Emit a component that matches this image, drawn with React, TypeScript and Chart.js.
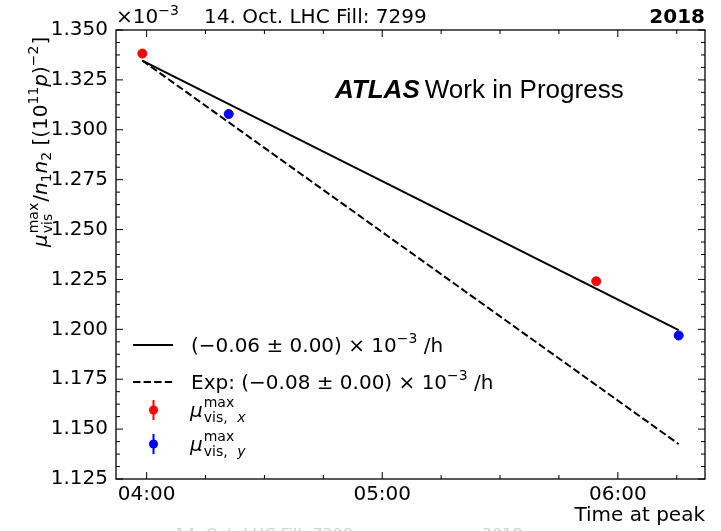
import React, { useEffect, useRef } from "react";
import { Chart, registerables } from "chart.js";

Chart.register(...registerables);

// ---- data (times in minutes after 04:00, values in units of 1e-3) ----
const xTickValues = [0, 60, 120];
const xTickLabels = ["04:00", "05:00", "06:00"];
const muXTimes = [-1.1, 114.5];
const muXValues = [1.3382, 1.2241];
const muYTimes = [20.9, 135.5];
const muYValues = [1.3079, 1.1969];
const fitTimes = [-1.1, 135.5];
const fitValues = [1.3347, 1.1996];
const expTimes = [-1.1, 135.5];
const expValues = [1.3347, 1.1425];
const xMin = -7.8;
const xMax = 142.2;
const yMin = 1.125;
const yMax = 1.35;
const yStep = 0.025;

const FONT = "'DejaVu Sans', sans-serif";

type Seg = { t: string; size: number; style?: string; dy?: number; stack?: boolean; family?: string; dx?: number };

function drawRich(ctx: CanvasRenderingContext2D, segs: Seg[], x: number, y: number) {
  let cx = x;
  let prevStart = x;
  for (const s of segs) {
    const start = (s.stack ? prevStart : cx) + (s.dx || 0);
    ctx.font = `${s.style || ""} ${s.size}px ${s.family || FONT}`;
    ctx.fillText(s.t, start, y + (s.dy || 0));
    const end = start + ctx.measureText(s.t).width;
    cx = s.stack ? Math.max(cx, end) : end;
    prevStart = start;
  }
  return cx;
}

const S = 20;
const SS = 14;

const overlay = {
  id: "overlay",
  afterDraw(chart: any) {
    const ctx: CanvasRenderingContext2D = chart.ctx;
    const ca = chart.chartArea;
    const xs = chart.scales.x;
    const ys = chart.scales.y;
    ctx.save();
    ctx.strokeStyle = "#000";
    ctx.fillStyle = "#000";
    // frame
    ctx.lineWidth = 1.3;
    ctx.strokeRect(ca.left, ca.top, ca.right - ca.left, ca.bottom - ca.top);
    // ticks
    ctx.lineWidth = 1;
    ctx.beginPath();
    for (let v = Math.ceil(xMin / 15) * 15; v <= xMax; v += 15) {
      const px = xs.getPixelForValue(v);
      const len = v % 60 === 0 ? 7 : 4;
      ctx.moveTo(px, ca.bottom);
      ctx.lineTo(px, ca.bottom - len);
      ctx.moveTo(px, ca.top);
      ctx.lineTo(px, ca.top + len);
    }
    for (let i = 0; i <= 36; i++) {
      const v = yMin + i * (yStep / 4);
      const py = ys.getPixelForValue(v);
      const len = i % 4 === 0 ? 7 : 4;
      ctx.moveTo(ca.left, py);
      ctx.lineTo(ca.left + len, py);
      ctx.moveTo(ca.right, py);
      ctx.lineTo(ca.right - len, py);
    }
    ctx.stroke();

    ctx.textBaseline = "alphabetic";
    ctx.textAlign = "left";
    // top texts
    drawRich(ctx, [
      { t: "×10", size: S },
      { t: "−3", size: SS, dy: -8 },
    ], 116, 23);
    ctx.font = `${S}px ${FONT}`;
    ctx.fillText("14. Oct. LHC Fill: 7299", 204, 23);
    ctx.textAlign = "right";
    ctx.font = `bold ${S}px ${FONT}`;
    ctx.fillText("2018", 705, 23);
    ctx.font = `${S}px ${FONT}`;
    ctx.fillText("Time at peak", 705, 521);
    // faint clipped text at bottom edge
    ctx.fillStyle = "#d2d2d2";
    ctx.textAlign = "left";
    ctx.font = `16px ${FONT}`;
    ctx.fillText("14. Oct. LHC Fill: 7299", 175, 540);
    ctx.fillText("2018", 482, 540);
    ctx.fillStyle = "#000";

    // ATLAS label
    ctx.textAlign = "left";
    ctx.font = `italic bold 26px 'Liberation Sans', Arial, sans-serif`;
    ctx.fillText("ATLAS", 335, 98);
    const aw = ctx.measureText("ATLAS").width;
    ctx.font = `26px 'Liberation Sans', Arial, sans-serif`;
    ctx.fillText("Work in Progress", 335 + aw + 5, 98);

    // y-axis title (rotated)
    ctx.save();
    ctx.translate(47, 247);
    ctx.rotate(-Math.PI / 2);
    drawRich(ctx, [
      { t: "μ", size: S, style: "italic" },
      { t: "max", size: SS, dy: -9, dx: 1 },
      { t: "vis", size: SS, dy: 5, stack: true },
      { t: "/", size: S, dx: 1 },
      { t: "n", size: S, style: "italic" },
      { t: "1", size: SS, dy: 4 },
      { t: "n", size: S, style: "italic" },
      { t: "2", size: SS, dy: 4 },
      { t: " [(10", size: S },
      { t: "11", size: SS, dy: -9 },
      { t: "p", size: S, style: "italic" },
      { t: ")", size: S },
      { t: "−2", size: SS, dy: -9 },
      { t: "]", size: S, dx: 1 },
    ], 0, 0);
    ctx.restore();

    // legend
    ctx.lineWidth = 2;
    ctx.beginPath();
    ctx.moveTo(133, 345);
    ctx.lineTo(173, 345);
    ctx.stroke();
    ctx.setLineDash([7.4, 3.2]);
    ctx.beginPath();
    ctx.moveTo(133, 382);
    ctx.lineTo(173, 382);
    ctx.stroke();
    ctx.setLineDash([]);
    drawRich(ctx, [
      { t: "(−0.06 ± 0.00) × 10", size: S },
      { t: "−3", size: SS, dy: -9 },
      { t: " /h", size: S },
    ], 191, 352);
    drawRich(ctx, [
      { t: "Exp: (−0.08 ± 0.00) × 10", size: S },
      { t: "−3", size: SS, dy: -9 },
      { t: " /h", size: S },
    ], 191, 389);
    const markers: [string, number, string][] = [["#ff0000", 410, "x"], ["#0000ff", 444, "y"]];
    for (const [col, my, sub] of markers) {
      ctx.strokeStyle = col;
      ctx.fillStyle = col;
      ctx.lineWidth = 2;
      ctx.beginPath();
      ctx.moveTo(153.5, my - 10);
      ctx.lineTo(153.5, my + 10);
      ctx.stroke();
      ctx.beginPath();
      ctx.arc(153.5, my, 4.5, 0, Math.PI * 2);
      ctx.fill();
      ctx.fillStyle = "#000";
      drawRich(ctx, [
        { t: "μ", size: S, style: "italic" },
        { t: "max", size: SS, dy: -10, dx: 1 },
        { t: "vis,", size: SS, dy: 5, stack: true },
        { t: sub, size: SS, dy: 5, style: "italic", dx: 3 },
      ], 190, my + 7);
    }
    ctx.restore();
  },
};

export default function App() {
  const ref = useRef<HTMLCanvasElement>(null);
  useEffect(() => {
    if (!ref.current) return;
    const tickFont = { family: FONT, size: S };
    const chart = new Chart(ref.current, {
      type: "scatter",
      data: {
        datasets: [
          {
            data: fitTimes.map((t, i) => ({ x: t, y: fitValues[i] })),
            showLine: true,
            borderColor: "#000",
            borderWidth: 2,
            pointRadius: 0,
          },
          {
            data: expTimes.map((t, i) => ({ x: t, y: expValues[i] })),
            showLine: true,
            borderColor: "#000",
            borderWidth: 2,
            borderDash: [7.4, 3.2],
            pointRadius: 0,
          },
          {
            data: muXTimes.map((t, i) => ({ x: t, y: muXValues[i] })),
            backgroundColor: "#ff0000",
            borderColor: "#ff0000",
            pointRadius: 4.5,
          },
          {
            data: muYTimes.map((t, i) => ({ x: t, y: muYValues[i] })),
            backgroundColor: "#0000ff",
            borderColor: "#0000ff",
            pointRadius: 4.5,
          },
        ],
      } as any,
      options: {
        responsive: false,
        animation: false,
        devicePixelRatio: 1,
        layout: { padding: { top: 30, right: 16, left: 0, bottom: 0 } },
        plugins: { legend: { display: false }, tooltip: { enabled: false } },
        scales: {
          x: {
            type: "linear",
            min: xMin,
            max: xMax,
            grid: { display: false, drawTicks: false },
            border: { display: false },
            ticks: {
              font: tickFont,
              color: "#000",
              padding: 4,
              maxRotation: 0,
              callback: (v: any) => {
                const i = xTickValues.indexOf(Number(v));
                return i >= 0 ? xTickLabels[i] : "";
              },
            },
            afterBuildTicks: (s: any) => {
              s.ticks = xTickValues.map((v) => ({ value: v }));
            },
            afterFit: (s: any) => {
              s.height = 52;
            },
          },
          y: {
            min: yMin,
            max: yMax,
            grid: { display: false, drawTicks: false },
            border: { display: false },
            ticks: {
              stepSize: yStep,
              font: tickFont,
              color: "#000",
              padding: 8,
              callback: (v: any) => Number(v).toFixed(3),
            },
            afterFit: (s: any) => {
              s.width = 116;
            },
          },
        },
      } as any,
      plugins: [overlay],
    });
    return () => chart.destroy();
  }, []);
  return (
    <div style={{ position: "fixed", left: 0, top: 0, width: 721, height: 531, background: "#fff" }}>
      <canvas ref={ref} width={721} height={531} style={{ width: 721, height: 531 }} />
    </div>
  );
}
